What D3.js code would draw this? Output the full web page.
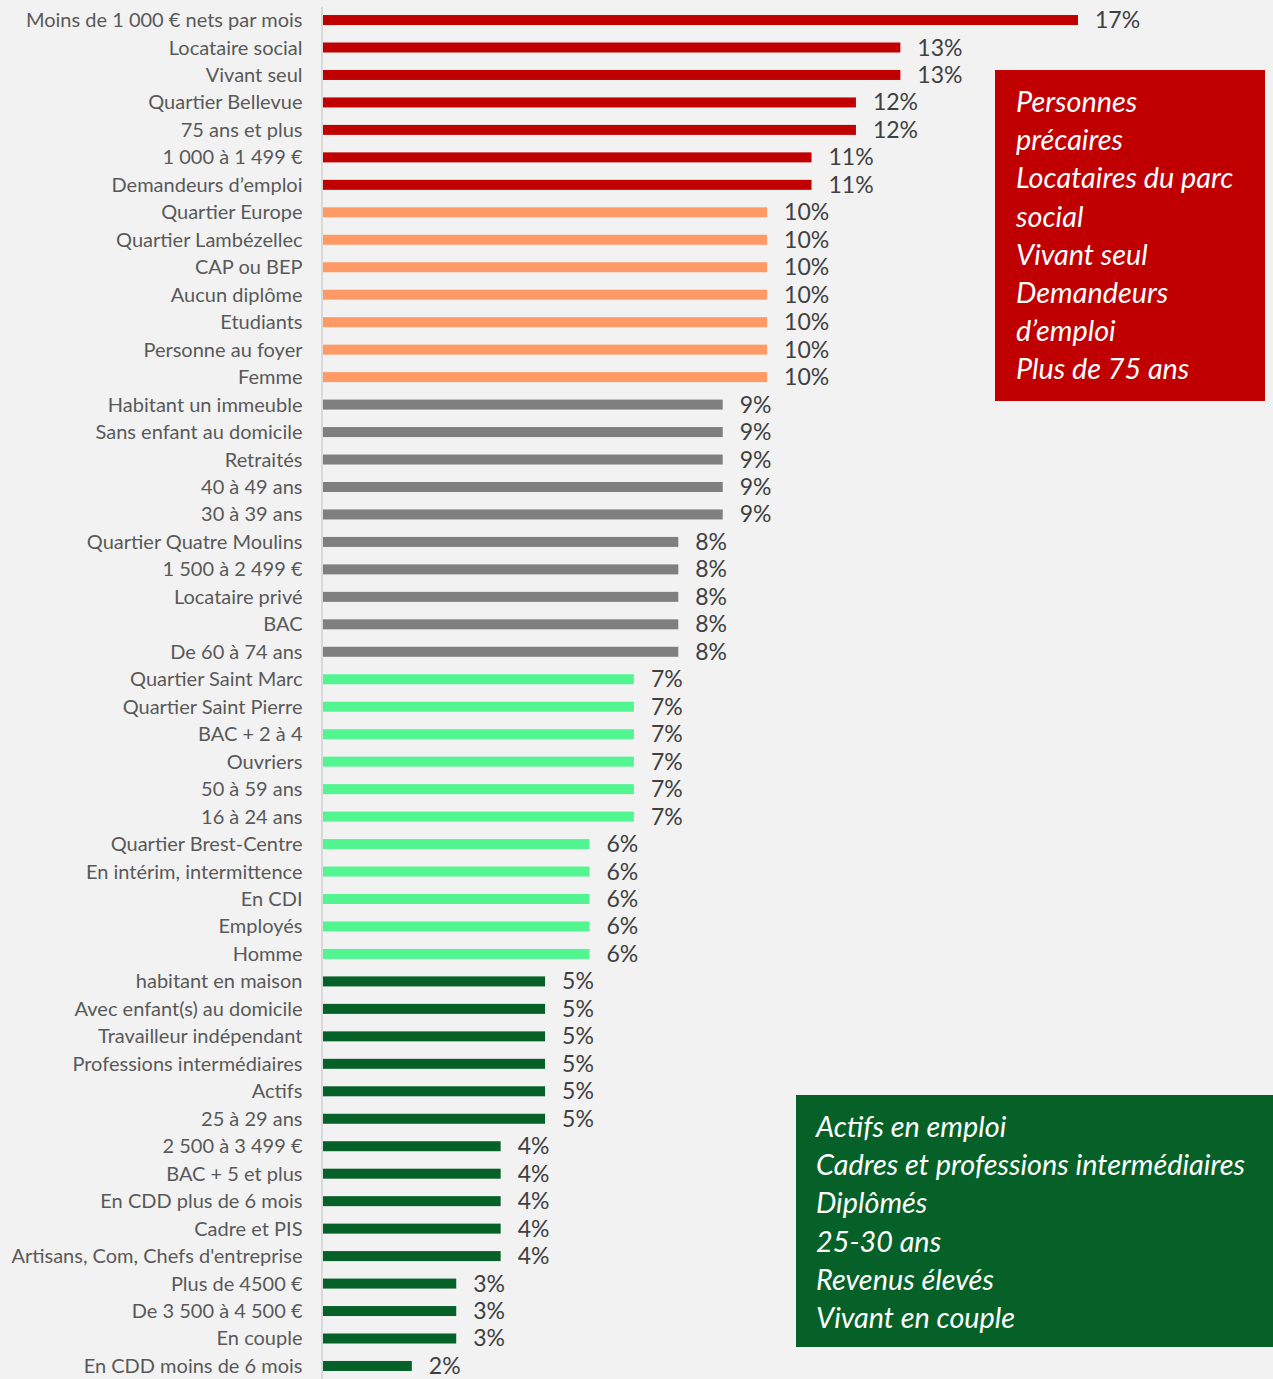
<!DOCTYPE html>
<html>
<head>
<meta charset="utf-8">
<script src="https://cdn.jsdelivr.net/npm/d3@7"></script>
<style>
  body { margin: 0; background: #f2f2f2; }
  svg { display: block; font-family: Lato, "Open Sans", sans-serif; }
  .cat text { fill: #595959; font-size: 20px; font-family: Lato, "Open Sans", sans-serif; }
  .val { fill: #404040; font-size: 23px; }
  .box text { fill: #fff; font-size: 28.8px; font-style: italic; }
</style>
</head>
<body>
<div class="container"></div>
<script>
"use strict";

// categories, top to bottom
var categories = [
  "Moins de 1 000 € nets par mois", "Locataire social", "Vivant seul", "Quartier Bellevue",
  "75 ans et plus", "1 000 à 1 499 €", "Demandeurs d’emploi", "Quartier Europe",
  "Quartier Lambézellec", "CAP ou BEP", "Aucun diplôme ", "Etudiants", "Personne au foyer",
  "Femme", "Habitant un immeuble", "Sans enfant au domicile", "Retraités", "40 à 49 ans",
  "30 à 39 ans", "Quartier Quatre Moulins", "1 500 à 2 499 €", "Locataire  privé", "BAC ",
  "De 60 à 74 ans", "Quartier Saint Marc", "Quartier Saint Pierre", "BAC + 2 à 4", "Ouvriers",
  "50 à 59 ans", "16 à 24 ans", "Quartier Brest-Centre", "En intérim, intermittence",
  "En CDI", "Employés", "Homme", "habitant en  maison", "Avec enfant(s) au domicile ",
  "Travailleur indépendant", "Professions intermédiaires", "Actifs", "25 à 29 ans",
  "2 500 à 3 499 €", "BAC + 5 et plus", "En CDD plus de 6 mois", "Cadre et PIS",
  "Artisans, Com, Chefs d'entreprise", "Plus de 4500 €", "De 3 500 à 4 500 €", "En couple",
  "En CDD moins de 6 mois"
];
var values = [17, 13, 13, 12, 12, 11, 11, 10, 10, 10, 10, 10, 10, 10, 9, 9, 9, 9, 9,
  8, 8, 8, 8, 8, 7, 7, 7, 7, 7, 7, 6, 6, 6, 6, 6, 5, 5, 5, 5, 5, 5, 4, 4, 4, 4, 4, 3, 3, 3, 2];
// colour group of each bar
var groups = [0, 0, 0, 0, 0, 0, 0, 1, 1, 1, 1, 1, 1, 1, 2, 2, 2, 2, 2,
  2, 2, 2, 2, 2, 3, 3, 3, 3, 3, 3, 3, 3, 3, 3, 3, 4, 4, 4, 4, 4, 4, 4, 4, 4, 4, 4, 4, 4, 4, 4];
var groupColors = ["#c00000", "#ff9966", "#7f7f7f", "#53f591", "#066128"];

var redLines = ["Personnes", "précaires", "Locataires du parc", "social", "Vivant seul",
  "Demandeurs", "d’emploi", "Plus de 75 ans"];
var greenLines = ["Actifs en emploi", "Cadres et professions intermédiaires", "Diplômés",
  "25-30 ans", "Revenus élevés", "Vivant en couple"];

var w = 1273, h = 1379;

var svg = d3.select(".container").append("svg").attr("width", w).attr("height", h);
svg.append("rect").attr("width", w).attr("height", h).attr("fill", "#f2f2f2");

var x = d3.scaleLinear().domain([0, 17]).range([323, 1078]);
var y = d3.scaleBand().domain(categories).range([6.3, 1379.7]).paddingInner(0.636).paddingOuter(0.318);

//Category axis
var yAxis = d3.axisLeft(y).tickSize(0).tickPadding(19);
var yAxisGroup = svg.append("g").attr("class", "cat").attr("transform", "translate(321.5,0)").call(yAxis);
yAxisGroup.attr("font-family", null).attr("font-size", null);
yAxisGroup.select(".domain").attr("stroke", "#d9d9d9").attr("stroke-width", 2);
yAxisGroup.selectAll("text").attr("dy", "0.35em");

//Bars
svg.selectAll("rect.bar").data(values).enter().append("rect")
  .attr("class", "bar")
  .attr("x", x(0))
  .attr("y", function (d, i) { return y(categories[i]); })
  .attr("width", function (d) { return x(d) - x(0); })
  .attr("height", y.bandwidth())
  .attr("fill", function (d, i) { return groupColors[groups[i]]; });

//Value labels
svg.selectAll("text.val").data(values).enter().append("text")
  .attr("class", "val")
  .attr("x", function (d) { return x(d) + 17; })
  .attr("y", function (d, i) { return y(categories[i]) + y.bandwidth() / 2 + 8; })
  .text(function (d) { return d + "%"; });

//Text boxes
function box(x0, y0, bw, bh, fill, lines, tx, ty) {
  var g = svg.append("g").attr("class", "box");
  g.append("rect").attr("x", x0).attr("y", y0).attr("width", bw).attr("height", bh).attr("fill", fill);
  g.selectAll("text").data(lines).enter().append("text")
    .attr("x", tx)
    .attr("y", function (d, i) { return ty + i * 38.2; })
    .text(function (d) { return d; });
}
box(995, 70, 270, 331, "#c00000", redLines, 1016, 112);
box(796, 1095, 477, 252, "#066128", greenLines, 816, 1137);
</script>
</body>
</html>
